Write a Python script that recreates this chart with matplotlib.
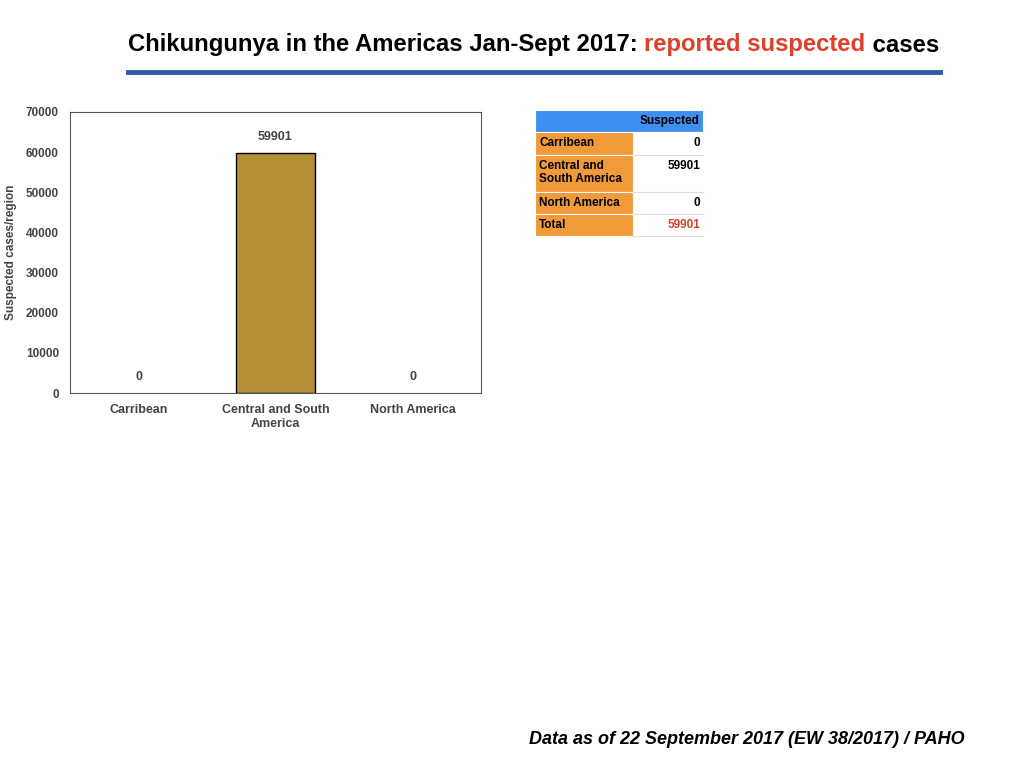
import matplotlib.pyplot as plt
from matplotlib.patches import Rectangle
from matplotlib.lines import Line2D

regions = ['Carribean', 'Central and South\nAmerica', 'North America']
cases = [0, 59901, 0]
table_rows = ['Carribean', 'Central and\nSouth America', 'North America', 'Total']
table_vals = ['0', '59901', '0', '59901']

plt.rcParams['font.family'] = ['Liberation Sans', 'DejaVu Sans']
W, H = 1024, 768
fig = plt.figure(figsize=(10.24, 7.68), dpi=100)
r = fig.canvas.get_renderer()

# title, pieces placed one after another
xpos = 128
for txt, col in [('Chikungunya in the Americas Jan-Sept 2017: ', 'black'),
                 ('reported suspected', '#e0402a'), (' cases', 'black')]:
    t = fig.text(xpos/W, 1-45/H, txt, ha='left', va='center', fontsize=17.2,
                 fontweight='bold', color=col)
    xpos = t.get_window_extent(r).x1
fig.add_artist(Line2D([128/W, 940/W], [1-72/H, 1-72/H], color='#2a5ca8', lw=3.5))

ax = fig.add_axes([70/W, 1-393/H, 411/W, 281/H])
x = range(len(regions))
ax.bar(x, cases, width=0.57, color='#b38f33', edgecolor='black',
       linewidth=[1 if v else 0 for v in cases])
for i, v in zip(x, cases):
    ax.text(i, v + 2500, str(v), ha='center', va='bottom', fontsize=9,
            fontweight='bold', color='#444444')
ax.set_ylim(0, 70000)
ax.set_xlim(-0.5, 2.5)
ax.set_yticks(range(0, 70001, 10000))
ax.set_xticks(list(x))
ax.set_xticklabels(regions, fontsize=9, fontweight='bold', color='#444444')
ax.tick_params(axis='y', labelsize=8.5, length=0, labelcolor='#444444', pad=8)
ax.tick_params(axis='x', length=0, pad=8)
for lbl in ax.get_yticklabels():
    lbl.set_fontweight('bold')
ax.set_ylabel('Suspected cases/region', fontsize=8.5, fontweight='bold', color='#444444')
ax.yaxis.set_label_coords(-0.13, 0.5)
for s in ax.spines.values():
    s.set_color('#555555')

# table
xs = [535, 633, 703]
ys = [110, 132, 155, 192, 214, 236]
def rect(x0, y0, x1, y1, c):
    fig.add_artist(Rectangle((x0/W, 1-y1/H), (x1-x0)/W, (y1-y0)/H, facecolor=c,
                             edgecolor='white', lw=0.8, transform=fig.transFigure))
rect(xs[0], ys[0], xs[2], ys[1], '#3f8ff0')
fig.text((xs[2]-3)/W, 1-(ys[0]+11)/H, 'Suspected', ha='right', va='center', fontsize=8.5, fontweight='bold')
for i, (lab, val) in enumerate(zip(table_rows, table_vals)):
    y0, y1 = ys[i+1], ys[i+2]
    rect(xs[0], y0, xs[1], y1, '#f09a3a')
    rect(xs[1], y0, xs[2], y1, 'white')
    fig.add_artist(Line2D([xs[1]/W, xs[2]/W], [1-y1/H]*2, color='#dddddd', lw=0.8))
    fig.text((xs[0]+4)/W, 1-(y0+5)/H, lab, ha='left', va='top', fontsize=8.5,
             fontweight='bold', linespacing=1.15)
    fig.text((xs[2]-3)/W, 1-(y0+5)/H, val, ha='right', va='top', fontsize=8.5, fontweight='bold',
             color='#e0402a' if lab == 'Total' else 'black')

fig.text(965/W, 1-740/H, 'Data as of 22 September 2017 (EW 38/2017) / PAHO', ha='right',
         va='center', fontsize=13, fontweight='bold', style='italic')

fig.savefig('out.png', dpi=100)
